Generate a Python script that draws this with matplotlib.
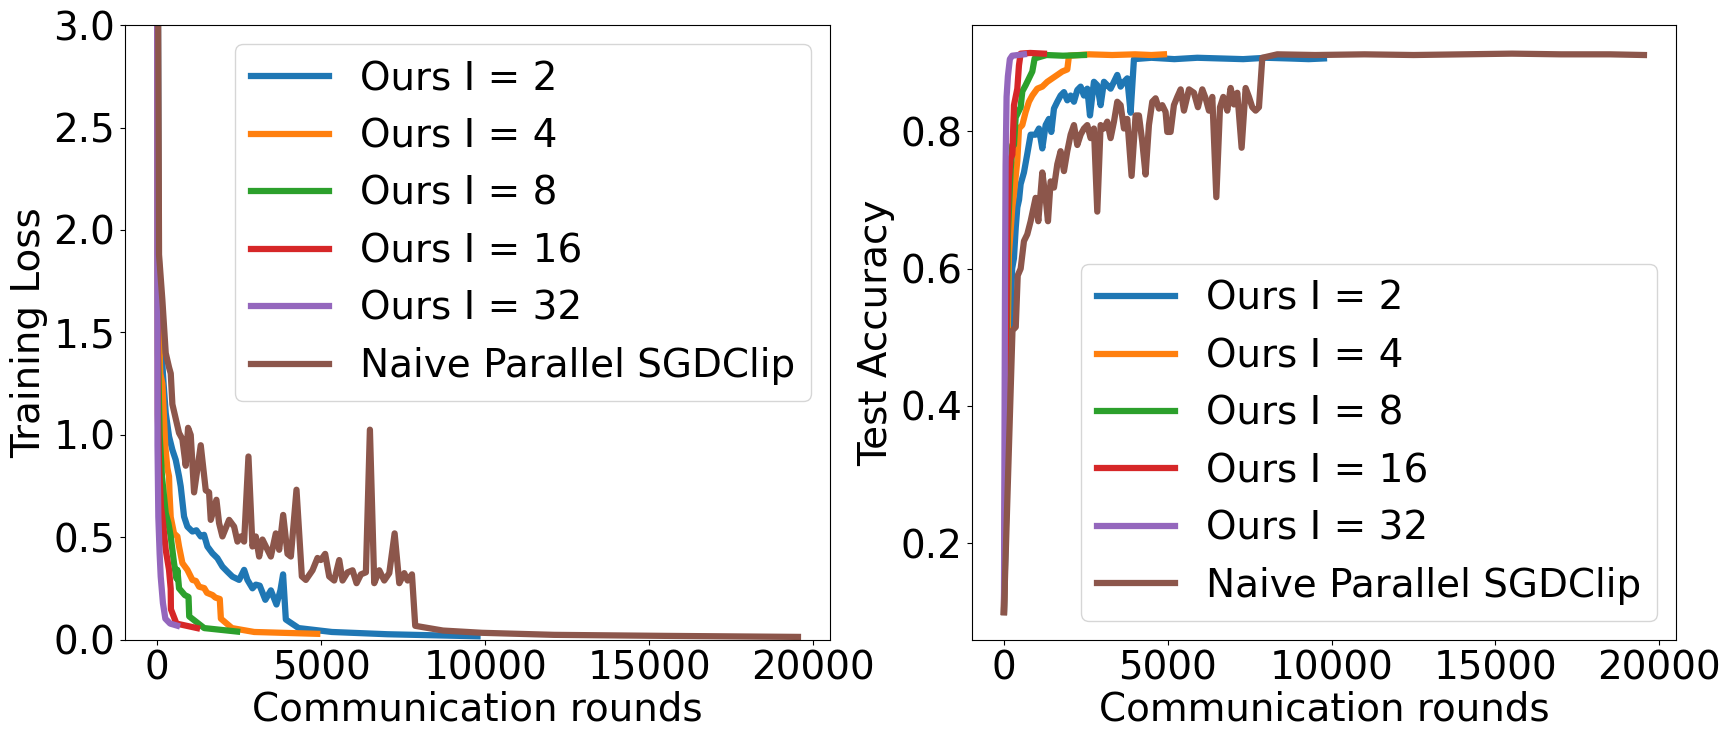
import matplotlib
matplotlib.use("Agg")
import matplotlib.pyplot as plt

# ---- training loss (left panel) ----
loss_i2_x = [0, 50, 120, 200, 265, 366, 467, 569, 671, 722, 824, 925, 1078, 1200, 1332, 1433, 1535,
             1688, 1840, 1993, 2145, 2298, 2501, 2654, 2755, 2908, 3010, 3130, 3300, 3470, 3640, 3760,
             3841, 3925, 4315, 5330, 7020, 9766]
loss_i2_y = [4.6, 1.9, 1.45, 1.25, 1.107, 0.993, 0.928, 0.879, 0.798, 0.749, 0.602, 0.553, 0.529, 0.535,
             0.505, 0.513, 0.456, 0.423, 0.399, 0.358, 0.333, 0.309, 0.293, 0.342, 0.293, 0.252, 0.27,
             0.265, 0.196, 0.242, 0.173, 0.242, 0.32, 0.1, 0.058, 0.039, 0.028, 0.018]

loss_i4_x = [0, 40, 100, 163, 250, 315, 366, 380, 417, 518, 620, 671, 773, 925, 1078, 1184, 1282, 1438,
             1523, 1692, 1777, 1912, 1946, 2284, 2961, 4883]
loss_i4_y = [4.6, 1.6, 1.3, 1.25, 0.95, 0.839, 0.798, 0.717, 0.6, 0.52, 0.505, 0.456, 0.375, 0.342,
             0.293, 0.288, 0.26, 0.253, 0.23, 0.219, 0.207, 0.2, 0.104, 0.058, 0.039, 0.03]

loss_i8_x = [0, 30, 80, 150, 265, 346, 417, 518, 592, 620, 671, 846, 960, 981, 1438, 2441]
loss_i8_y = [4.6, 1.4, 1.0, 0.8, 0.618, 0.57, 0.505, 0.375, 0.3, 0.342, 0.252, 0.219, 0.21, 0.115,
             0.058, 0.041]

loss_i16_x = [0, 25, 60, 120, 163, 265, 366, 417, 423, 592, 1220]
loss_i16_y = [4.6, 1.1, 0.85, 0.65, 0.6, 0.44, 0.342, 0.25, 0.15, 0.08, 0.058]

loss_i32_x = [0, 15, 40, 80, 112, 180, 254, 400, 610]
loss_i32_y = [4.6, 0.95, 0.6, 0.42, 0.31, 0.18, 0.104, 0.08, 0.07]

loss_naive_x = [0, 61, 162, 265, 366, 418, 468, 671, 772, 875, 946, 1027, 1129, 1332, 1485, 1586, 1637,
                1810, 1891, 1993, 2196, 2349, 2451, 2552, 2654, 2786, 2908, 3010, 3112, 3213, 3366,
                3468, 3620, 3722, 3844, 3976, 4078, 4250, 4413, 4535, 4738, 4890, 4992, 5124, 5246,
                5399, 5552, 5653, 5806, 5958, 6080, 6213, 6365, 6487, 6619, 6772, 6924, 7077, 7240,
                7382, 7534, 7636, 7768, 7868, 8714, 9900, 12100, 15480, 19531]
loss_naive_y = [4.6, 1.88, 1.66, 1.4, 1.33, 1.3, 1.15, 1.01, 0.98, 0.85, 1.035, 1.0, 0.72, 0.95, 0.73,
                0.72, 0.586, 0.684, 0.57, 0.505, 0.586, 0.553, 0.48, 0.505, 0.48, 0.895, 0.456, 0.505,
                0.407, 0.49, 0.44, 0.407, 0.52, 0.44, 0.61, 0.42, 0.407, 0.733, 0.31, 0.293, 0.34, 0.4,
                0.39, 0.42, 0.31, 0.29, 0.39, 0.29, 0.33, 0.34, 0.277, 0.32, 0.33, 1.026, 0.277, 0.34,
                0.29, 0.326, 0.52, 0.277, 0.326, 0.29, 0.32, 0.069, 0.046, 0.035, 0.025, 0.02, 0.015]

# ---- test accuracy (right panel) ----
acc_i2_x = [0, 195, 250, 305, 360, 408, 460, 509, 610, 712, 814, 966, 1068, 1170, 1272, 1373, 1445,
            1526, 1628, 1729, 1831, 1933, 2035, 2136, 2238, 2340, 2441, 2543, 2625, 2746, 2848, 2950,
            3052, 3153, 3255, 3357, 3458, 3560, 3662, 3763, 3865, 3967, 4500, 5200, 5900, 6600, 7300,
            8000, 8700, 9300, 9766]
acc_i2_y = [0.1, 0.515, 0.6, 0.615, 0.66, 0.689, 0.70, 0.723, 0.74, 0.767, 0.795, 0.795, 0.804, 0.775,
            0.809, 0.818, 0.799, 0.833, 0.843, 0.852, 0.857, 0.845, 0.852, 0.843, 0.86, 0.865, 0.852,
            0.862, 0.823, 0.872, 0.867, 0.838, 0.872, 0.867, 0.862, 0.872, 0.882, 0.865, 0.872, 0.877,
            0.827, 0.905, 0.907, 0.905, 0.907, 0.906, 0.905, 0.907, 0.906, 0.905, 0.906]

acc_i4_x = [0, 150, 210, 256, 305, 408, 458, 560, 661, 763, 865, 1017, 1170, 1322, 1475, 1628, 1780,
            1933, 1984, 2600, 3300, 4000, 4500, 4883]
acc_i4_y = [0.1, 0.62, 0.66, 0.69, 0.709, 0.757, 0.804, 0.809, 0.828, 0.843, 0.852, 0.862, 0.865, 0.872,
            0.877, 0.882, 0.887, 0.89, 0.91, 0.912, 0.911, 0.912, 0.911, 0.912]

acc_i8_x = [0, 120, 200, 256, 305, 357, 509, 560, 661, 763, 865, 936, 1300, 1800, 2441]
acc_i8_y = [0.1, 0.65, 0.74, 0.78, 0.78, 0.82, 0.835, 0.858, 0.867, 0.877, 0.887, 0.906, 0.911, 0.91,
            0.911]

acc_i16_x = [0, 100, 150, 200, 256, 306, 408, 458, 509, 800, 1220]
acc_i16_y = [0.1, 0.65, 0.73, 0.76, 0.766, 0.838, 0.862, 0.896, 0.913, 0.914, 0.913]

acc_i32_x = [0, 30, 50, 80, 120, 180, 250, 610]
acc_i32_y = [0.1, 0.55, 0.75, 0.85, 0.88, 0.905, 0.91, 0.912]

acc_naive_x = [0, 260, 360, 420, 510, 610, 712, 814, 966, 1048, 1170, 1272, 1343, 1424, 1526, 1628, 1729,
               1831, 1933, 2035, 2136, 2238, 2340, 2441, 2543, 2645, 2746, 2848, 2950, 3052, 3153, 3255,
               3357, 3458, 3560, 3662, 3763, 3895, 4017, 4119, 4220, 4322, 4424, 4526, 4627, 4729, 4831,
               4933, 4984, 5085, 5187, 5289, 5392, 5493, 5646, 5798, 5920, 6053, 6154, 6256, 6358, 6481,
               6593, 6694, 6816, 6918, 7019, 7121, 7253, 7375, 7477, 7578, 7680, 7782, 7884, 8342, 9500,
               11000, 12500, 14000, 15500, 17000, 18500, 19531]
acc_naive_y = [0.1, 0.51, 0.515, 0.59, 0.6, 0.64, 0.65, 0.669, 0.703, 0.669, 0.74, 0.703, 0.669, 0.727,
               0.718, 0.752, 0.771, 0.742, 0.771, 0.795, 0.809, 0.78, 0.795, 0.804, 0.809, 0.79, 0.804,
               0.683, 0.809, 0.804, 0.814, 0.79, 0.814, 0.843, 0.838, 0.804, 0.818, 0.735, 0.823, 0.823,
               0.785, 0.737, 0.809, 0.843, 0.848, 0.833, 0.838, 0.828, 0.799, 0.799, 0.838, 0.85, 0.861,
               0.83, 0.861, 0.856, 0.835, 0.861, 0.848, 0.83, 0.85, 0.704, 0.835, 0.85, 0.83, 0.863,
               0.839, 0.856, 0.776, 0.863, 0.85, 0.835, 0.83, 0.835, 0.907, 0.912, 0.911, 0.912, 0.911,
               0.912, 0.913, 0.912, 0.912, 0.911]

labels = ["Ours I = 2", "Ours I = 4", "Ours I = 8", "Ours I = 16", "Ours I = 32",
          "Naive Parallel SGDClip"]

plt.rcParams.update({'font.size': 28})

fig = plt.figure(figsize=(17.31, 7.42), dpi=100)
ax1 = fig.add_axes([0.0722, 0.1375, 0.4073, 0.8288])
ax2 = fig.add_axes([0.5615, 0.1375, 0.4067, 0.8288])

loss_series = [(loss_i2_x, loss_i2_y), (loss_i4_x, loss_i4_y), (loss_i8_x, loss_i8_y),
               (loss_i16_x, loss_i16_y), (loss_i32_x, loss_i32_y), (loss_naive_x, loss_naive_y)]
acc_series = [(acc_i2_x, acc_i2_y), (acc_i4_x, acc_i4_y), (acc_i8_x, acc_i8_y),
              (acc_i16_x, acc_i16_y), (acc_i32_x, acc_i32_y), (acc_naive_x, acc_naive_y)]

for (x, y), lab in zip(loss_series, labels):
    ax1.plot(x, y, lw=4.5, label=lab)
ax1.set_ylim(0, 3)
ax1.set_xlabel("Communication rounds", labelpad=2)
ax1.set_ylabel("Training Loss", labelpad=4)
ax1.legend(loc="upper right")

for (x, y), lab in zip(acc_series, labels):
    ax2.plot(x, y, lw=4.5, label=lab)
ax2.set_yticks([0.2, 0.4, 0.6, 0.8])
ax2.set_xlabel("Communication rounds", labelpad=2)
ax2.set_ylabel("Test Accuracy", labelpad=4)
ax2.legend(loc="lower right")

fig.savefig("out.png", dpi=100)
